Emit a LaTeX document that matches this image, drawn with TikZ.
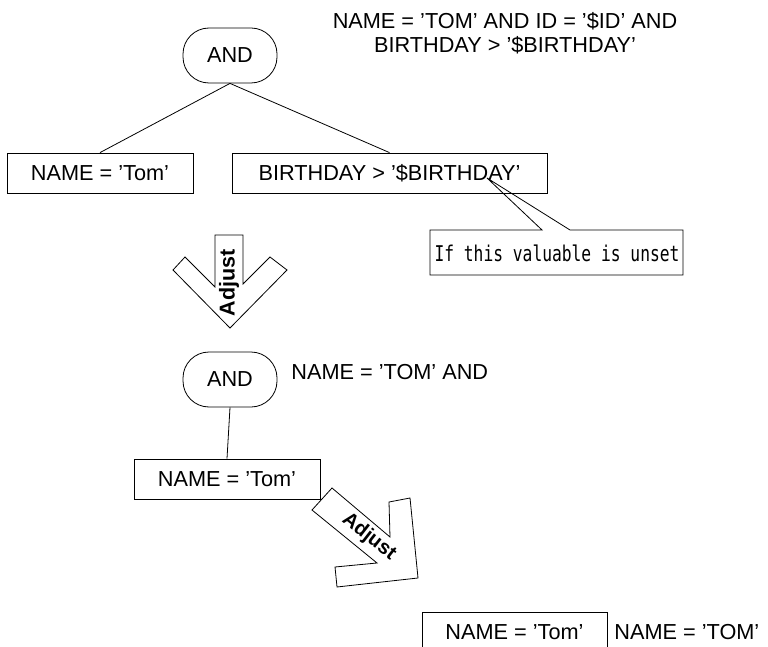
\documentclass[tikz,border=0pt]{standalone}
\usepackage{fontspec}
\setmainfont{Liberation Sans}
\newfontfamily\gothic[FakeStretch=0.75]{DejaVu Sans Mono}
\begin{document}
\begin{tikzpicture}[x=1pt,y=-1pt, line width=0.8pt,
  every node/.style={font=\fontsize{21.7}{24.5}\selectfont, inner sep=0pt},
  boxnode/.style={draw, fill=white, minimum height=40pt},
  andnode/.style={draw, fill=white, rounded corners=26pt, minimum width=94pt, minimum height=55pt},
  adj/.style={font=\fontsize{20}{24}\selectfont\bfseries},
  arrowshape/.style={draw, fill=white, line join=miter}]
\clip (0,0) rectangle (768,647);

% top tree
\node[andnode] (and1) at (230,55.5) {AND};
\node[boxnode, minimum width=186pt] (n1) at (100,173) {NAME = 'Tom'};
\node[boxnode, minimum width=315pt] (b1) at (389.5,173) {BIRTHDAY > '\$BIRTHDAY'};
\draw (and1.south) -- (n1.north);
\draw (and1.south) -- (b1.north);
\node[align=center] (q1) at (505,33) {NAME = 'TOM' AND ID = '\$ID' AND\\BIRTHDAY > '\$BIRTHDAY'};

% callout
\coordinate (tip) at (487,178);
\fill[white] (430,230) rectangle (683,275);
\draw (430,230) -- (542,230) -- (tip) -- (570,230) -- (683,230) -- (683,275) -- (430,275) -- cycle;
\node (note) at (557,253) {\gothic If this valuable is unset};

% first adjust arrow
\draw[arrowshape] (215,235) -- (243,235) -- (243,284) -- (270,257) -- (287,270) -- (230,328)
  -- (173,270) -- (185,257) -- (215,287) -- cycle;
\node[adj, font=\fontsize{21.5}{24}\selectfont\bfseries, rotate=90] (adj1) at (229,283) {Adjust};

% middle tree
\node[andnode] (and2) at (230,379.5) {AND};
\node[anchor=west] (q2) at (291,372) {NAME = 'TOM' AND};
\node[boxnode, minimum width=186pt] (n2) at (227,479) {NAME = 'Tom'};
\draw (and2.south) -- (n2.north);

% second adjust arrow
\draw[arrowshape] (312,510) -- (332,488) -- (390,537) -- (389,502) -- (410,498) -- (418,578)
  -- (337,587) -- (335,567) -- (377,563) -- cycle;
\node[adj, rotate=-38] (adj2) at (369,537) {Adjust};

% bottom result
\node[boxnode, minimum width=185pt] (n3) at (514.5,632) {NAME = 'Tom'};
\node[anchor=west] (q3) at (614,632) {NAME = 'TOM'};
\end{tikzpicture}
\end{document}
